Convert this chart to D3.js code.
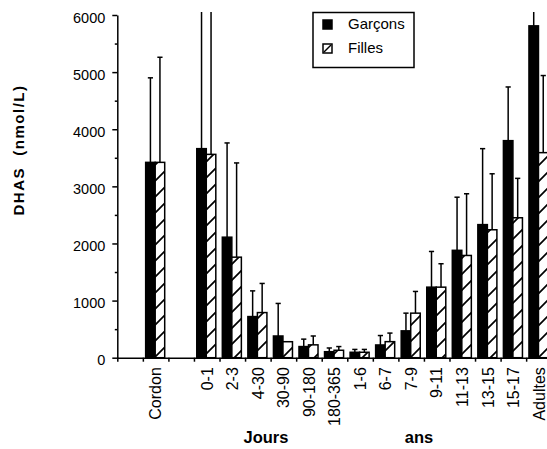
<!DOCTYPE html>
<html>
<head>
<meta charset="utf-8">
<script src="https://cdn.jsdelivr.net/npm/d3@7"></script>
<style>
  body { margin: 0; background: #fff; }
  svg { display: block; font-family: "Liberation Sans", Arial, Helvetica, sans-serif; }
</style>
</head>
<body>
<svg id="chart" width="547" height="449"></svg>
<script>
// DHAS (nmol/L) : mean and upper SD
var categories = ["Cordon", "0-1", "2-3", "4-30", "30-90", "90-180", "180-365",
                  "1-6", "6-7", "7-9", "9-11", "11-13", "13-15", "15-17", "Adultes"];
var garcons   = [3420, 3660, 2110, 720, 380, 195, 105, 95, 223, 470, 1235, 1880, 2330, 3800, 5810];
var garconsSD = [1480, 4000, 1650, 450, 570, 130, 65, 50, 165, 310, 625, 930, 1330, 940, 700];
var filles    = [3420, 3560, 1760, 790, 280, 225, 130, 95, 281, 780, 1235, 1790, 2240, 2450, 3590];
var fillesSD  = [1840, 4000, 1650, 510, 0, 155, 65, 50, 150, 380, 410, 1080, 980, 690, 1350];
var yTicks = [0, 1000, 2000, 3000, 4000, 5000, 6000];
var yMinorTicks = [500, 1500, 2500, 3500, 4500, 5500];
var seriesNames = ["Garçons", "Filles"];

// empty slots before and after "Cordon"
var slots = ["_gap1", "Cordon", "_gap2"].concat(categories.slice(1));

var svg = d3.select("#chart");
svg.append("rect").attr("width", 547).attr("height", 449).attr("fill", "#fff");

var x = d3.scaleBand().domain(slots).range([117.3, 551.7]);
var xs = d3.scaleBand().domain(["G", "F"]).range([x.bandwidth() * 0.11, x.bandwidth() * 0.855]);
var y = d3.scaleLinear().domain([0, 6000]).range([357.7, 15]);

var defs = svg.append("defs");
var hatch = defs.append("pattern")
  .attr("id", "hatch")
  .attr("patternUnits", "userSpaceOnUse")
  .attr("width", 16).attr("height", 16);
hatch.append("rect").attr("width", 16).attr("height", 16).attr("fill", "#fff");
hatch.append("path")
  .attr("d", "M-2,2L2,-2M0,16L16,0M14,18L18,14")
  .attr("stroke", "#000").attr("stroke-width", 1.7);

defs.append("clipPath").attr("id", "plotclip")
  .append("rect").attr("x", 100).attr("y", 12).attr("width", 460).attr("height", 360);

var rows = categories.map(function(c, i) {
  return [
    { cat: c, key: "G", v: garcons[i], sd: garconsSD[i] },
    { cat: c, key: "F", v: filles[i], sd: fillesSD[i] }
  ];
});
var bars = d3.merge(rows);

var plot = svg.append("g").attr("clip-path", "url(#plotclip)");

// error bars (upper only)
var err = plot.selectAll("g.err").data(bars.filter(function(d) { return d.sd > 0; }))
  .enter().append("g").attr("class", "err")
  .attr("stroke", "#000").attr("stroke-width", 1.5);
err.append("line")
  .attr("x1", function(d) { return x(d.cat) + xs(d.key) + xs.bandwidth() / 2; })
  .attr("x2", function(d) { return x(d.cat) + xs(d.key) + xs.bandwidth() / 2; })
  .attr("y1", function(d) { return y(d.v); })
  .attr("y2", function(d) { return y(d.v + d.sd); });
err.append("line")
  .attr("x1", function(d) { return x(d.cat) + xs(d.key) + xs.bandwidth() / 2 - 2.6; })
  .attr("x2", function(d) { return x(d.cat) + xs(d.key) + xs.bandwidth() / 2 + 2.6; })
  .attr("y1", function(d) { return y(d.v + d.sd); })
  .attr("y2", function(d) { return y(d.v + d.sd); });

// bars
plot.selectAll("rect.bar").data(bars)
  .enter().append("rect").attr("class", "bar")
  .attr("x", function(d) { return x(d.cat) + xs(d.key); })
  .attr("width", xs.bandwidth())
  .attr("y", function(d) { return y(d.v); })
  .attr("height", function(d) { return y(0) - y(d.v); })
  .attr("fill", function(d) { return d.key == "G" ? "#000" : "url(#hatch)"; })
  .attr("stroke", "#000").attr("stroke-width", 1.5);

// y axis, major and minor
var yAxis = svg.append("g").attr("transform", "translate(117.3,0)")
  .call(d3.axisLeft(y).tickValues(yTicks).tickSize(5).tickSizeOuter(0).tickPadding(7).tickFormat(d3.format("d")));
svg.append("g").attr("transform", "translate(117.3,0)")
  .call(d3.axisLeft(y).tickValues(yMinorTicks).tickSize(2.5).tickSizeOuter(0).tickFormat(""))
  .select(".domain").remove();
yAxis.selectAll("text").attr("font-size", 14.5).attr("fill", "#000").attr("dy", "0.5em")
  .attr("font-family", "Liberation Sans, Arial, sans-serif");

// x axis : ticks on slot boundaries, labels under slot centres
var xb = d3.scaleLinear().domain([0, slots.length]).range(x.range());
svg.append("g").attr("transform", "translate(0," + y(0) + ")")
  .call(d3.axisBottom(xb).tickValues(d3.range(0, slots.length + 1)).tickSize(4).tickSizeOuter(0).tickFormat(""));
var xAxis = svg.append("g").attr("transform", "translate(0," + y(0) + ")")
  .call(d3.axisBottom(x).tickSize(0).tickFormat(function(d) { return d.charAt(0) == "_" ? "" : d; }));
xAxis.select(".domain").remove();
xAxis.selectAll("text")
  .attr("transform", "rotate(-90)")
  .attr("text-anchor", "end")
  .attr("x", -9.5).attr("y", 0).attr("dy", "0.36em")
  .attr("font-size", 16).attr("fill", "#000")
  .attr("font-family", "Liberation Sans, Arial, sans-serif");

svg.selectAll(".domain, .tick line").attr("stroke", "#000").attr("stroke-width", 1.5);

// axis titles
svg.append("text")
  .attr("transform", "translate(24,150) rotate(-90)")
  .attr("text-anchor", "middle")
  .attr("font-size", 15).attr("font-weight", "bold").attr("letter-spacing", 1.5)
  .text("DHAS\u00a0\u00a0(nmol/L)");
svg.append("text").attr("x", 266).attr("y", 443).attr("text-anchor", "middle")
  .attr("font-size", 16.5).attr("font-weight", "bold").text("Jours");
svg.append("text").attr("x", 419).attr("y", 443).attr("text-anchor", "middle")
  .attr("font-size", 16.5).attr("font-weight", "bold").text("ans");

// legend
var legend = svg.append("g").attr("transform", "translate(313,12.5)");
legend.append("rect").attr("width", 101).attr("height", 55)
  .attr("fill", "#fff").attr("stroke", "#000").attr("stroke-width", 1.5);
var item = legend.selectAll("g.item").data(seriesNames)
  .enter().append("g").attr("class", "item")
  .attr("transform", function(d, i) { return "translate(10," + (7.5 + i * 24) + ")"; });
item.append("rect").attr("width", 9).attr("height", 9)
  .attr("fill", function(d, i) { return i == 0 ? "#000" : "#fff"; })
  .attr("stroke", "#000").attr("stroke-width", 1.5);
item.filter(function(d, i) { return i == 1; }).append("line")
  .attr("x1", 1).attr("y1", 8).attr("x2", 8).attr("y2", 1)
  .attr("stroke", "#000").attr("stroke-width", 1.5);
item.append("text").attr("x", 25).attr("y", 9).attr("font-size", 15).attr("fill", "#000")
  .text(function(d) { return d; });
</script>
</body>
</html>
